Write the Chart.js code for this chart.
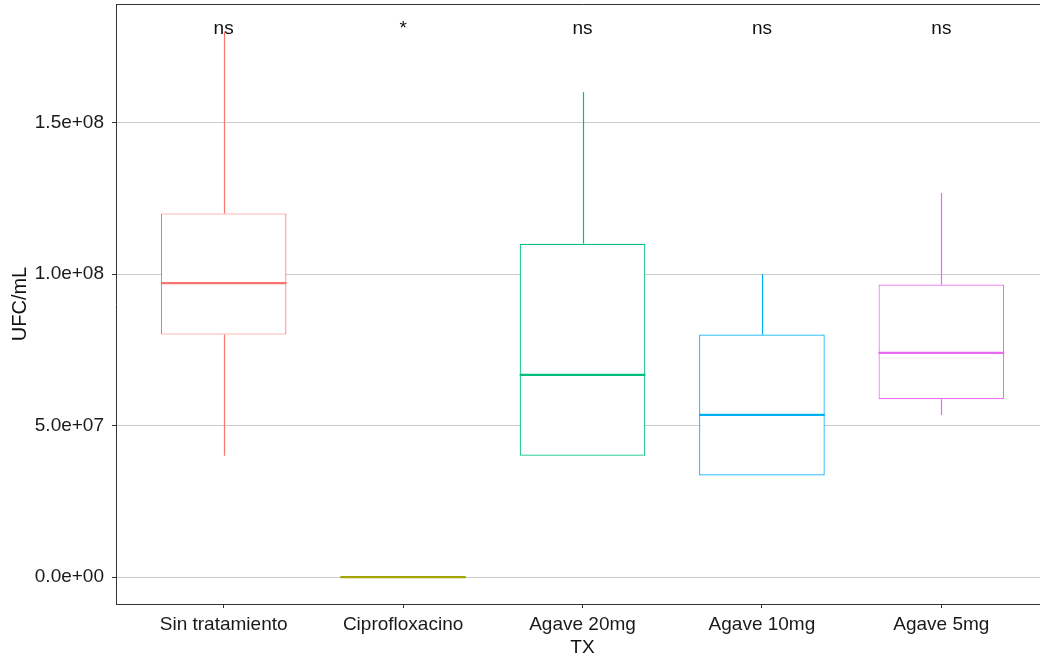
<!DOCTYPE html>
<html>
<head>
<meta charset="utf-8">
<script src="https://cdn.jsdelivr.net/npm/chart.js@4.4.1/dist/chart.umd.min.js"></script>
<style>
  html, body { margin: 0; padding: 0; background: #fff; overflow: hidden; }
  #wrap { width: 1049px; height: 659px; }
</style>
</head>
<body>
<div id="wrap"><canvas id="c"></canvas></div>
<script>
// categories and box statistics (UFC/mL)
const groups = ['Sin tratamiento', 'Ciprofloxacino', 'Agave 20mg', 'Agave 10mg', 'Agave 5mg'];
const mins    = [4.0e7, 0, 4.0e7, 3.35e7, 5.35e7];
const q1s     = [8.0e7, 0, 4.0e7, 3.35e7, 5.87e7];
const medians = [9.7e7, 0, 6.67e7, 5.35e7, 7.4e7];
const q3s     = [1.2e8, 0, 1.1e8, 8.0e7, 9.65e7];
const maxs    = [1.8e8, 0, 1.6e8, 1.0e8, 1.267e8];
const signif  = ['ns', '*', 'ns', 'ns', 'ns'];
const signifY = 1.81e8;
const colors  = ['#F8766D', '#A3A500', '#00BF7D', '#00B0F6', '#E76BF3'];

const yTicks = [0, 5e7, 1e8, 1.5e8];
const yTickLabels = ['0.0e+00', '5.0e+07', '1.0e+08', '1.5e+08'];

const FONT = "'Liberation Sans', Arial, sans-serif";
const FS = 19;

const boxPlugin = {
  id: 'boxextras',
  afterDatasetsDraw(chart) {
    const ctx = chart.ctx;
    const x = chart.scales.x, y = chart.scales.y;
    const meta = chart.getDatasetMeta(0);
    const area = chart.chartArea;
    ctx.save();
    // top panel line
    ctx.strokeStyle = '#333';
    ctx.lineWidth = 1;
    ctx.beginPath();
    ctx.moveTo(area.left, Math.round(area.top) + 0.5);
    ctx.lineTo(area.right, Math.round(area.top) + 0.5);
    ctx.stroke();

    groups.forEach((g, i) => {
      const bar = meta.data[i];
      const cx = Math.round(x.getPixelForValue(i + 1)) + 0.5;
      const half = bar.width / 2;
      ctx.strokeStyle = colors[i];
      // whiskers
      ctx.lineWidth = 1.2;
      ctx.beginPath();
      ctx.moveTo(cx, y.getPixelForValue(q3s[i]));
      ctx.lineTo(cx, y.getPixelForValue(maxs[i]));
      ctx.moveTo(cx, y.getPixelForValue(q1s[i]));
      ctx.lineTo(cx, y.getPixelForValue(mins[i]));
      ctx.stroke();
      // median
      ctx.lineWidth = 2.2;
      const my = y.getPixelForValue(medians[i]);
      ctx.beginPath();
      ctx.moveTo(bar.x - half, my);
      ctx.lineTo(bar.x + half, my);
      ctx.stroke();
      // significance label
      ctx.fillStyle = '#111';
      ctx.font = FS + 'px ' + FONT;
      ctx.textAlign = 'center';
      ctx.textBaseline = 'middle';
      ctx.fillText(signif[i], x.getPixelForValue(i + 1), y.getPixelForValue(signifY));
    });
    ctx.restore();
  }
};

new Chart(document.getElementById('c'), {
  type: 'bar',
  data: {
    datasets: [{
      data: groups.map((g, i) => ({ x: i + 1, y: [q1s[i], q3s[i]] })),
      backgroundColor: '#ffffff',
      borderColor: colors,
      borderWidth: 1.2,
      borderSkipped: false,
      barPercentage: 0.7,
      categoryPercentage: 1
    }]
  },
  options: {
    responsive: true,
    maintainAspectRatio: false,
    animation: false,
    layout: { padding: { top: 4, right: 0, bottom: 0, left: 0 } },
    plugins: { legend: { display: false }, tooltip: { enabled: false } },
    scales: {
      x: {
        type: 'linear',
        offset: false,
        min: 0.4,
        max: 5.6,
        afterBuildTicks: s => { s.ticks = groups.map((g, i) => ({ value: i + 1 })); },
        afterFit: s => { s.height = 55; s.paddingLeft = 0; s.paddingRight = 0; },
        ticks: {
          callback: v => groups[v - 1],
          color: '#1a1a1a',
          font: { family: FONT, size: FS },
          padding: 5,
          maxRotation: 0,
          autoSkip: false
        },
        grid: { offset: false, drawOnChartArea: false, color: '#333', tickColor: '#333', tickLength: 4 },
        border: { color: '#333', width: 1 },
        title: {
          display: true, text: 'TX', color: '#111',
          font: { family: FONT, size: FS }, padding: { top: 0, bottom: 0 }
        }
      },
      y: {
        min: -8.9e6,
        max: 1.891e8,
        afterBuildTicks: s => { s.ticks = yTicks.map(v => ({ value: v })); },
        afterFit: s => { s.width = 116; s.paddingTop = 0; s.paddingBottom = 0; },
        ticks: {
          callback: v => yTickLabels[yTicks.indexOf(v)],
          color: '#1a1a1a',
          font: { family: FONT, size: FS },
          padding: 8
        },
        grid: { color: '#cccccc', lineWidth: 1, tickColor: '#333', tickLength: 4 },
        border: { color: '#333', width: 1 },
        title: {
          display: true, text: 'UFC/mL', color: '#111',
          font: { family: FONT, size: 20 }, padding: { top: 8, bottom: 0 }
        }
      }
    }
  },
  plugins: [boxPlugin]
});
</script>
</body>
</html>
